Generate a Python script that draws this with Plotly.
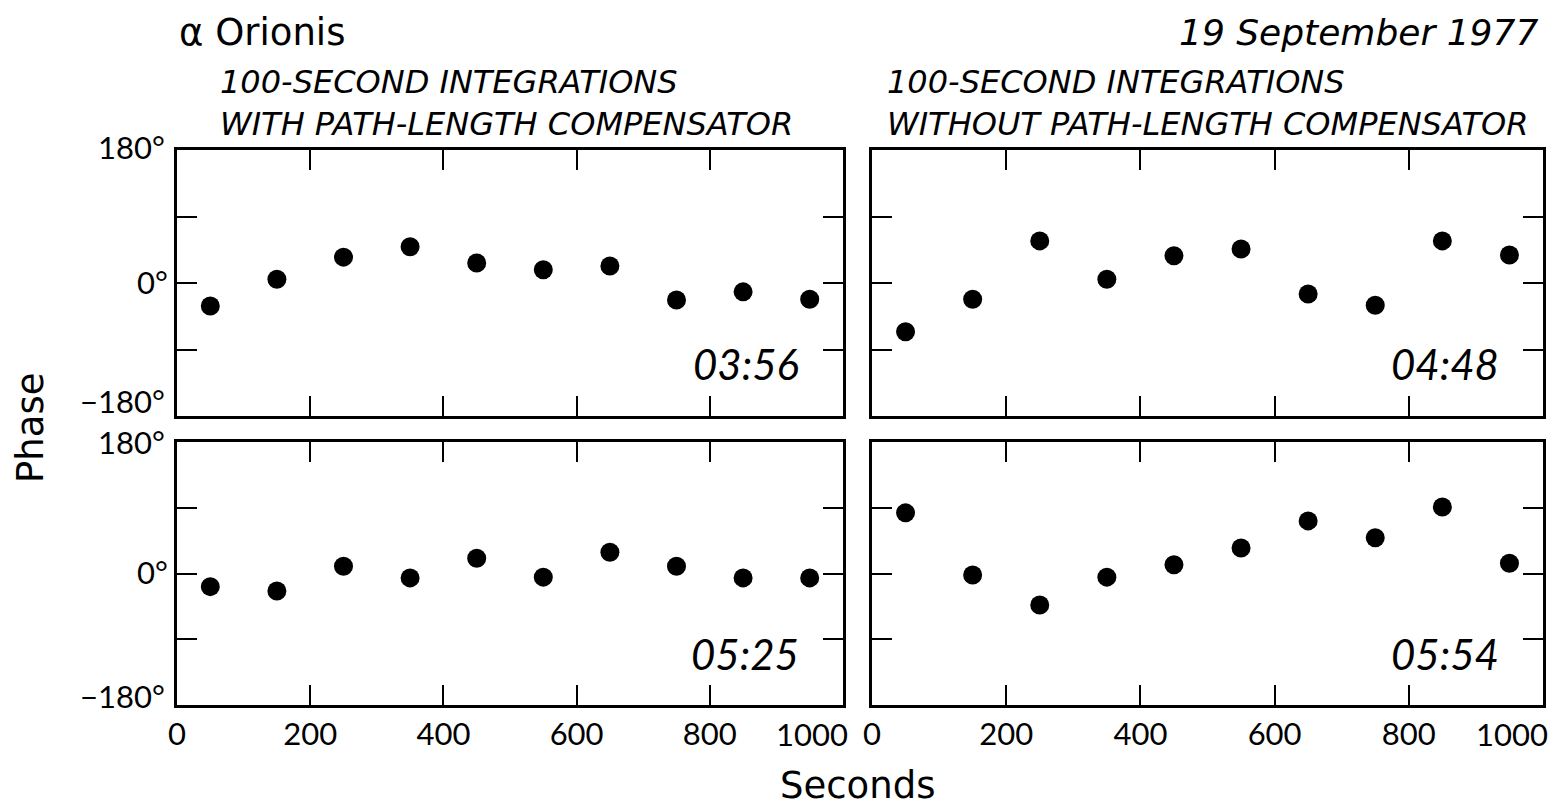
import plotly.graph_objects as go

seconds = [50, 150, 250, 350, 450, 550, 650, 750, 850, 950]
phase_0356 = [-31, 5, 35, 49, 27, 18, 23, -23, -12, -22]
phase_0448 = [-66, -22, 57, 5, 37, 46, -15, -30, 57, 38]
phase_0525 = [-18, -24, 10, -6, 21, -5, 29, 10, -6, -6]
phase_0554 = [83, -2, -43, -5, 12, 35, 72, 49, 91, 14]

panel_times = ["03:56", "04:48", "05:25", "05:54"]
x_ticks = [0, 200, 400, 600, 800, 1000]
x_ticktext = ["0", "200", "400", "600", "800", ""]
x_end_label = "1000"
y_ticks = [-180, -90, 0, 90, 180]
y_ticktext = ["", "", "0\u00b0", "", ""]
y_end_labels = {180: "180\u00b0", -180: "\u2212180\u00b0"}

FONT = "Lato"
WIDE = "DejaVu Sans"
W, H = 1566, 806

# panel pixel boxes (left, right, top, bottom)
boxes = [(177, 843, 150, 416), (872, 1543, 150, 416),
         (177, 843, 442, 705), (872, 1543, 442, 705)]
series = [phase_0356, phase_0448, phase_0525, phase_0554]
# vertical nudges (px) for the end labels on the left panels: (top label, bottom label)
y_label_nudge = {0: (3, 15), 2: (0, 9)}

fig = go.Figure()
for i, (box, ys) in enumerate(zip(boxes, series)):
    n = i + 1
    xa = "xaxis" if n == 1 else f"xaxis{n}"
    ya = "yaxis" if n == 1 else f"yaxis{n}"
    xr = "x" if n == 1 else f"x{n}"
    yr = "y" if n == 1 else f"y{n}"
    fig.add_trace(go.Scatter(x=seconds, y=ys, mode="markers", xaxis=xr, yaxis=yr,
                             marker=dict(size=19, color="black"), showlegend=False,
                             hoverinfo="x+y"))
    l, r, t, b = box
    bottom_row = i >= 2
    left_col = i % 2 == 0
    fig.layout[xa] = dict(domain=[l / W, r / W], range=[0, 1000], anchor=yr,
                          tickvals=x_ticks, ticktext=x_ticktext, showticklabels=bottom_row,
                          ticks="inside", ticklen=20, tickwidth=2, tickcolor="black",
                          showline=True, linewidth=3, linecolor="black", mirror="ticks",
                          showgrid=False, zeroline=False, automargin=False,
                          tickfont=dict(family=FONT, size=31, color="black"))
    fig.layout[ya] = dict(domain=[1 - b / H, 1 - t / H], range=[-180, 180], anchor=xr,
                          tickvals=y_ticks, ticktext=y_ticktext, showticklabels=left_col,
                          ticks="inside", ticklen=20, tickwidth=2, tickcolor="black",
                          showline=True, linewidth=3, linecolor="black", mirror="ticks",
                          showgrid=False, zeroline=False, automargin=False,
                          tickfont=dict(family=FONT, size=31, color="black"))
    fig.add_annotation(text=panel_times[i], xref=f"{xr} domain", yref=f"{yr} domain",
                       x=0.937, y=0.195, xanchor="right", yanchor="middle", showarrow=False,
                       font=dict(family=FONT, size=42, color="black", style="italic"))
    if bottom_row:
        fig.add_annotation(text=x_end_label, xref=xr, yref="paper",
                           x=x_ticks[-1], y=1 - 734 / H, xshift=-31,
                           xanchor="center", yanchor="middle", showarrow=False,
                           font=dict(family=FONT, size=31, color="black"))
    if left_col:
        up_top, up_bot = y_label_nudge[i]
        for val, shift in ((180, up_top), (-180, up_bot)):
            fig.add_annotation(text=y_end_labels[val], xref=f"{xr} domain", yref=yr,
                               x=0, y=val, xshift=-10, yshift=shift,
                               xanchor="right", yanchor="middle", showarrow=False,
                               font=dict(family=FONT, size=31, color="black"))

fig.add_annotation(text="\u03b1 Orionis", xref="paper", yref="paper",
                   x=177 / W, y=1 - 32 / H, xanchor="left", yanchor="middle", showarrow=False,
                   font=dict(family=WIDE, size=37, color="black"))
fig.add_annotation(text="19 September 1977", xref="paper", yref="paper",
                   x=1540 / W, y=1 - 32 / H, xanchor="right", yanchor="middle", showarrow=False,
                   font=dict(family=WIDE, size=36, color="black", style="italic"))
fig.add_annotation(text="100-SECOND INTEGRATIONS<br>WITH PATH-LENGTH COMPENSATOR",
                   xref="paper", yref="paper", x=218 / W, y=1 - 103 / H,
                   xanchor="left", yanchor="middle", align="left", showarrow=False,
                   font=dict(family=WIDE, size=32, color="black", style="italic"))
fig.add_annotation(text="100-SECOND INTEGRATIONS<br>WITHOUT PATH-LENGTH COMPENSATOR",
                   xref="paper", yref="paper", x=885 / W, y=1 - 103 / H,
                   xanchor="left", yanchor="middle", align="left", showarrow=False,
                   font=dict(family=WIDE, size=32, color="black", style="italic"))
fig.add_annotation(text="Phase", xref="paper", yref="paper", x=30 / W, y=1 - 428 / H,
                   textangle=-90, xanchor="center", yanchor="middle", showarrow=False,
                   font=dict(family=WIDE, size=37, color="black"))
fig.add_annotation(text="Seconds", xref="paper", yref="paper", x=858 / W, y=1 - 785 / H,
                   xanchor="center", yanchor="middle", showarrow=False,
                   font=dict(family=WIDE, size=37, color="black"))

fig.update_layout(width=W, height=H, autosize=False,
                  margin=dict(l=0, r=0, t=0, b=0, autoexpand=False),
                  paper_bgcolor="white", plot_bgcolor="white",
                  font=dict(family=FONT, color="black"))

fig.write_html("out.html", config={"displayModeBar": False},
               post_script="document.body.style.margin='0';")
